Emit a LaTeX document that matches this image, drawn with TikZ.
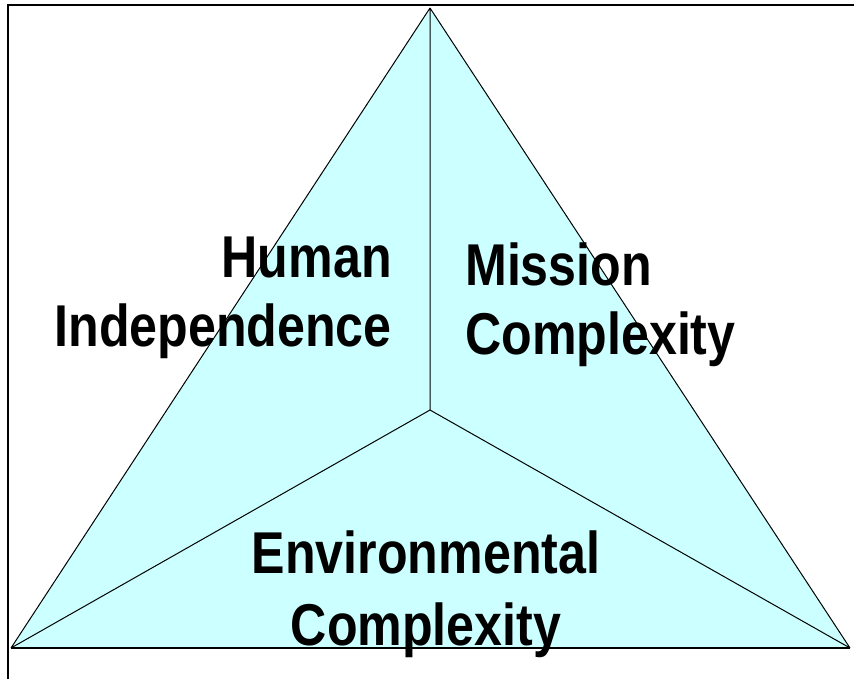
\documentclass[tikz,border=0pt]{standalone}
\usepackage{fontspec}
\setmainfont{Liberation Sans}[FakeStretch=0.85]
\definecolor{skyfill}{HTML}{CCFFFF}
\begin{document}
\begin{tikzpicture}[
      x=0.75pt, y=-0.75pt,
      edge/.style={draw=black, line width=0.75pt, line join=round},
      lbl/.style={
          inner sep=0pt,
          font=\bfseries\fontsize{44.25}{51.75}\selectfont,
        }
    ]
    \useasboundingbox (0,0) rectangle (854,679);
    \coordinate (top) at (430,8);
    \coordinate (bl) at (11,648);
    \coordinate (br) at (850,648);
    \coordinate (mid) at (430,410);

    \fill[skyfill] (top) -- (br) -- (bl) -- cycle;
    \draw[edge]
    (top) -- (bl)
    (top) -- (br)
    (top) -- (mid)
    (mid) -- (bl)
    (mid) -- (br)
    ;
    \draw[edge, line width=1.5pt] (bl) -- (br);
    \draw[line width=1.5pt] (7.5,679) -- (7.5,5) -- (854,5);

    \node[lbl, align=right, anchor=north east] (human) at (392,237) {Human\\Independence};
    \node[lbl, align=left, anchor=north west] (mission) at (465,242) {Mission\\Complexity};
    \node[lbl, align=center, anchor=north,
          font=\bfseries\fontsize{44.25}{54}\selectfont] (env) at (426,530) {Environmental\\Complexity};
  \end{tikzpicture}
\end{document}
